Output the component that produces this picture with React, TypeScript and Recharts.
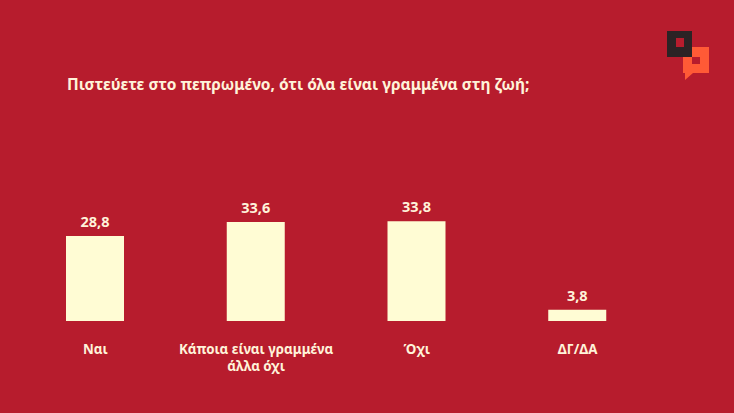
import { BarChart, Bar, XAxis, YAxis, LabelList } from 'recharts';

const categories = ['Ναι', 'Κάποια είναι γραμμένα|άλλα όχι', 'Όχι', 'ΔΓ/ΔΑ'];
const values = [28.8, 33.6, 33.8, 3.8];
const title = 'Πιστεύετε στο πεπρωμένο, ότι όλα είναι γραμμένα στη ζωή;';

const BG = '#B71C2D';
const CREAM = '#FFFCD4';
const TEXT = '#FFF3DA';
const FONT = '"Noto Sans", "Open Sans", sans-serif';

const data = categories.map((c, i) => ({ name: c, value: values[i] }));

// category names, split on "|" into two lines
function CategoryTick(props: any) {
  const { x, y, payload } = props;
  const lines = String(payload.value).split('|');
  return (
    <g>
      {lines.map((l, i) => (
        <text
          key={i}
          x={x}
          y={y + 27 + i * 17}
          textAnchor="middle"
          fill={TEXT}
          fontFamily={FONT}
          fontSize={13.3}
          fontWeight={700}
        >
          {l}
        </text>
      ))}
    </g>
  );
}

function Logo() {
  return (
    <svg width={734} height={413} style={{ position: 'absolute', left: 0, top: 0, pointerEvents: 'none' }}>
      <path d="M683 47 H709 V73 H693 L685 80 V73 H683 Z" fill="#FF5A36" />
      <rect x={667} y={31} width={25} height={26} fill="#2B2325" />
      <rect x={676} y={38} width={8} height={9} fill={BG} />
      <rect x={692} y={57} width={8} height={7} fill={BG} />
    </svg>
  );
}

export default function App() {
  return (
    <div style={{ position: 'absolute', left: 0, top: 0, width: 734, height: 413, background: BG }}>
      <BarChart
        width={734}
        height={413}
        data={data}
        margin={{ top: 203, right: 76, bottom: 0, left: 15 }}
      >
        <XAxis
          dataKey="name"
          axisLine={false}
          tickLine={false}
          tickMargin={0}
          height={92}
          interval={0}
          tick={<CategoryTick />}
        />
        <YAxis hide domain={[0, 40]} />
        <Bar dataKey="value" fill={CREAM} barSize={58} isAnimationActive={false}>
          <LabelList
            dataKey="value"
            position="top"
            offset={9}
            fill={TEXT}
            fontFamily={FONT}
            fontSize={14.5}
            fontWeight={700}
            formatter={(v: any) => String(v).replace('.', ',')}
          />
        </Bar>
      </BarChart>
      <div
        style={{
          position: 'absolute',
          left: 67,
          top: 73,
          color: TEXT,
          fontFamily: FONT,
          fontSize: 15.5,
          fontWeight: 700,
          whiteSpace: 'nowrap',
        }}
      >
        {title}
      </div>
      <Logo />
    </div>
  );
}
